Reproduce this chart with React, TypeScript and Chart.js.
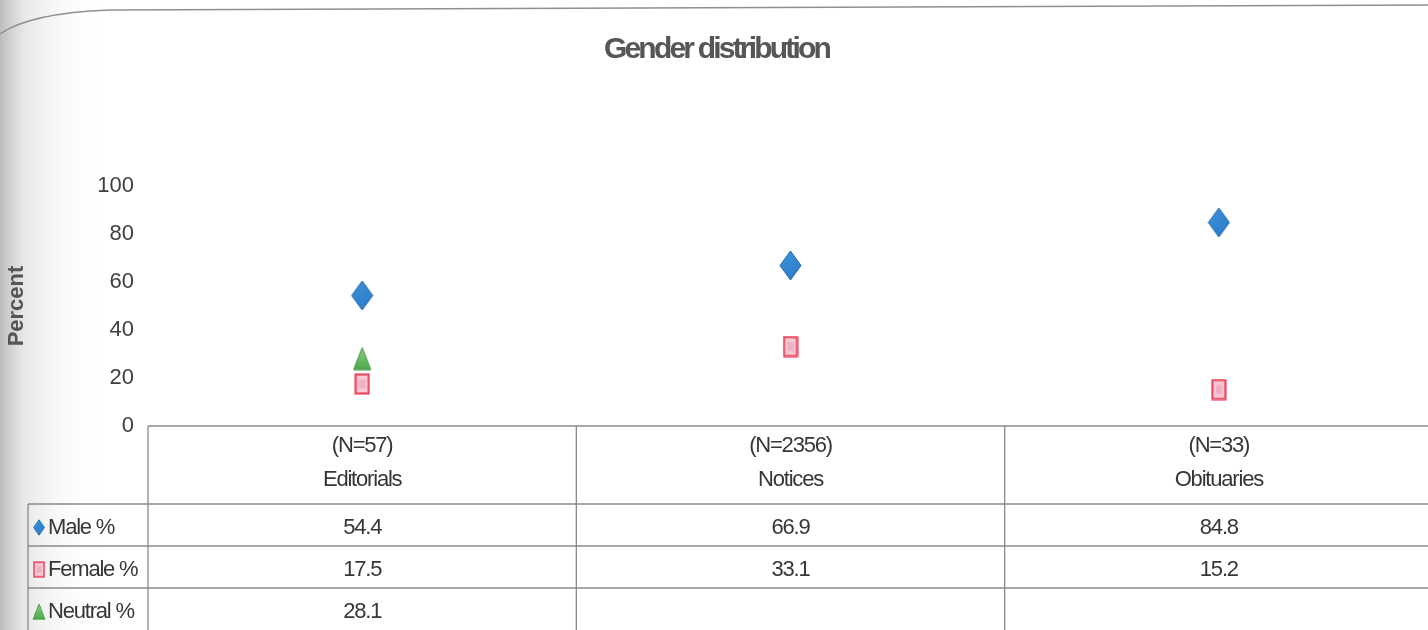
import React, { useEffect, useRef } from 'react';
import { Chart, registerables } from 'chart.js';

Chart.register(...registerables);

// ---- data ----
const categories = ['Editorials', 'Notices', 'Obituaries'];
const sampleSizes = ['(N=57)', '(N=2356)', '(N=33)'];
const seriesNames = ['Male %', 'Female %', 'Neutral %'];
const malePct: (number | null)[] = [54.4, 66.9, 84.8];
const femalePct: (number | null)[] = [17.5, 33.1, 15.2];
const neutralPct: (number | null)[] = [28.1, null, null];
const yTicks = [0, 20, 40, 60, 80, 100];
const chartTitle = 'Gender distribution';
const yTitle = 'Percent';

const FONT = '"Liberation Sans", Arial, sans-serif';
const TEXT = '#363636';
const LINE = '#8a8a8a';

function makeDiamond(w: number, h: number) {
  const c = document.createElement('canvas');
  c.width = w; c.height = h;
  const g = c.getContext('2d')!;
  g.beginPath();
  g.moveTo(w / 2, 1); g.lineTo(w - 1, h / 2); g.lineTo(w / 2, h - 1); g.lineTo(1, h / 2); g.closePath();
  const gr = g.createLinearGradient(0, 0, w, h);
  gr.addColorStop(0, '#3b95dc'); gr.addColorStop(1, '#2a78c6');
  g.fillStyle = gr; g.fill();
  g.strokeStyle = '#2466a8'; g.lineWidth = 1; g.stroke();
  return c;
}
function makeSquare(w: number, h: number) {
  const c = document.createElement('canvas');
  c.width = w; c.height = h;
  const g = c.getContext('2d')!;
  g.fillStyle = '#f7c9d4'; g.fillRect(1, 1, w - 2, h - 2);
  g.fillStyle = '#eeb0c4'; g.fillRect(w * 0.3, h * 0.3, w * 0.4, h * 0.4);
  g.strokeStyle = '#e8485f'; g.lineWidth = 2.2; g.strokeRect(1.5, 1.5, w - 3, h - 3);
  return c;
}
function makeTriangle(w: number, h: number) {
  const c = document.createElement('canvas');
  c.width = w; c.height = h;
  const g = c.getContext('2d')!;
  g.beginPath();
  g.moveTo(w / 2, 1); g.lineTo(w - 1, h - 1); g.lineTo(1, h - 1); g.closePath();
  const gr = g.createLinearGradient(0, 0, 0, h);
  gr.addColorStop(0, '#8fd28a'); gr.addColorStop(1, '#4aa647');
  g.fillStyle = gr; g.fill();
  g.strokeStyle = '#3e8e3c'; g.lineWidth = 1; g.stroke();
  return c;
}

const decorPlugin = {
  id: 'decor',
  beforeDraw(chart: any) {
    const ctx = chart.ctx as CanvasRenderingContext2D;
    ctx.save();
    ctx.fillStyle = '#ffffff';
    ctx.fillRect(0, 0, chart.width, chart.height);
    const g = ctx.createLinearGradient(0, 0, 100, 0);
    g.addColorStop(0, 'rgba(165,165,165,0.75)');
    g.addColorStop(0.25, 'rgba(205,205,205,0.45)');
    g.addColorStop(1, 'rgba(255,255,255,0)');
    ctx.fillStyle = g;
    ctx.fillRect(0, 0, 100, chart.height);
    ctx.strokeStyle = '#8f8f8f';
    ctx.lineWidth = 1.5;
    ctx.beginPath();
    ctx.moveTo(0, 34);
    ctx.quadraticCurveTo(30, 13, 110, 10);
    ctx.lineTo(chart.width, 5);
    ctx.stroke();
    ctx.restore();
    // condensed title (title box is drawn before the y-axis layers, which use z: 1)
    (ctx as any).letterSpacing = '-2.8px';
  },
  beforeDatasetsDraw(chart: any) {
    (chart.ctx as any).letterSpacing = '0px';
  },
};

const tablePlugin = {
  id: 'dataTable',
  afterDraw(chart: any) {
    const ctx = chart.ctx as CanvasRenderingContext2D;
    const area = chart.chartArea;
    const xs = chart.scales.x;
    const n = categories.length;
    const colW = (area.right - area.left) / n;
    const top = area.bottom;
    const headerBottom = top + 78;
    const rowH = 42;
    const bottom = headerBottom + rowH * 3;
    const x0 = 28;

    ctx.save();
    ctx.strokeStyle = LINE;
    ctx.lineWidth = 1.3;
    ctx.beginPath();
    ctx.moveTo(area.left, top); ctx.lineTo(chart.width, top);
    for (let r = 0; r <= 2; r++) {
      const y = headerBottom + r * rowH;
      ctx.moveTo(x0, y); ctx.lineTo(chart.width, y);
    }
    for (let i = 0; i <= n; i++) {
      const x = area.left + i * colW;
      ctx.moveTo(x, top); ctx.lineTo(x, bottom);
    }
    ctx.moveTo(x0, headerBottom); ctx.lineTo(x0, bottom);
    ctx.stroke();

    (ctx as any).letterSpacing = '-1.2px';
    ctx.fillStyle = TEXT;
    ctx.font = `22px ${FONT}`;
    ctx.textAlign = 'center';
    ctx.textBaseline = 'middle';
    for (let i = 0; i < n; i++) {
      const cx = xs.getPixelForValue(i);
      ctx.fillText(sampleSizes[i], cx, top + 20);
      ctx.fillText(categories[i], cx, top + 54);
    }
    chart.data.datasets.forEach((ds: any, d: number) => {
      const cy = headerBottom + d * rowH + rowH / 2 + 2.5;
      ds.data.forEach((v: number | null, i: number) => {
        if (v === null || v === undefined) return;
        ctx.fillText(String(v), xs.getPixelForValue(i), cy);
      });
      const img = ds.pointStyle as HTMLCanvasElement;
      const kh = 17;
      const kw = (img.width / img.height) * kh;
      ctx.drawImage(img, 39 - kw / 2, cy - kh / 2, kw, kh);
      ctx.textAlign = 'left';
      ctx.fillText(ds.label, 48, cy);
      ctx.textAlign = 'center';
    });
    ctx.restore();
    (ctx as any).letterSpacing = '0px';
  },
};

export default function App() {
  const ref = useRef<HTMLCanvasElement | null>(null);
  useEffect(() => {
    if (!ref.current) return;
    const diamond = makeDiamond(23, 31);
    const square = makeSquare(16, 22);
    const triangle = makeTriangle(19, 24);
    const series = [malePct, femalePct, neutralPct];
    const styles = [diamond, square, triangle];
    const chart = new Chart(ref.current, {
      type: 'line',
      data: {
        labels: categories,
        datasets: series.map((s, i) => ({
          label: seriesNames[i],
          data: s,
          showLine: false,
          pointStyle: styles[i] as any,
          pointRadius: 12,
          borderColor: 'transparent',
          backgroundColor: 'transparent',
        })),
      },
      options: {
        responsive: false,
        animation: false,
        layout: { autoPadding: false, padding: { left: 0, right: 0, top: 0, bottom: 204 } },
        plugins: {
          legend: { display: false },
          tooltip: { enabled: false },
          title: {
            display: true,
            text: chartTitle,
            color: '#565656',
            font: { family: FONT, size: 30, weight: 'bold' },
            padding: { top: 32, bottom: 118 },
          },
        },
        scales: {
          x: {
            display: false,
            offset: true,
          },
          y: {
            min: yTicks[0],
            max: yTicks[yTicks.length - 1],
            afterFit: (s: any) => { s.width = 148; },
            afterBuildTicks: (s: any) => { s.ticks = yTicks.map((v) => ({ value: v })); },
            grid: { display: false, drawTicks: false, z: 1 },
            border: { display: false, z: 1 },
            ticks: {
              z: 1,
              padding: 14,
              color: '#404040',
              font: { family: FONT, size: 22 },
            },
            title: {
              display: true,
              text: yTitle,
              color: '#555555',
              font: { family: FONT, size: 22, weight: 'bold' },
              padding: { top: 4, bottom: 0 },
            },
          },
        },
      },
      plugins: [decorPlugin, tablePlugin],
    });
    return () => chart.destroy();
  }, []);
  return (
    <div style={{ position: 'fixed', left: 0, top: 0, width: 1428, height: 630, overflow: 'hidden', background: '#fff' }}>
      <canvas ref={ref} width={1433} height={630} style={{ display: 'block' }} />
    </div>
  );
}
